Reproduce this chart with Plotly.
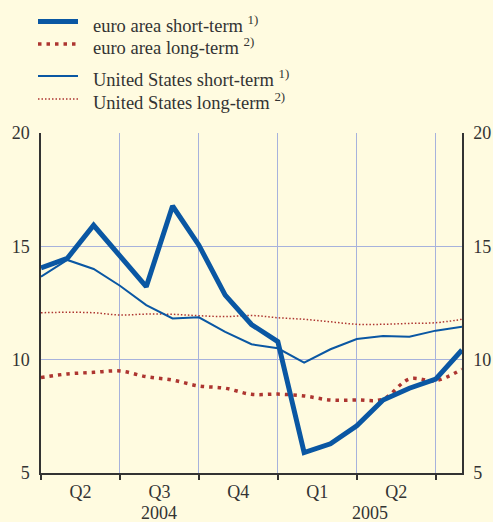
import plotly.graph_objects as go

# monthly observations, April 2004 .. August 2005 (index 0..16)
months = list(range(17))
euro_short = [14.05, 14.47, 15.93, 14.57, 13.22, 16.78, 15.05, 12.85, 11.55, 10.8,
              5.9, 6.29, 7.08, 8.22, 8.74, 9.14, 10.43]
euro_long = [9.21, 9.37, 9.44, 9.5, 9.25, 9.1, 8.84, 8.74, 8.47, 8.48,
             8.4, 8.22, 8.22, 8.26, 9.15, 9.07, 9.58]
us_short = [13.66, 14.4, 14.0, 13.26, 12.41, 11.82, 11.87, 11.23, 10.68, 10.5,
            9.87, 10.46, 10.91, 11.04, 11.01, 11.28, 11.45]
us_long = [12.07, 12.09, 12.07, 11.97, 12.01, 12.0, 11.94, 11.9, 11.95, 11.85,
           11.78, 11.67, 11.56, 11.56, 11.6, 11.63, 11.78]

series_names = ["euro area short-term <sup>1)</sup>", "euro area long-term <sup>2)</sup>",
                "United States short-term <sup>1)</sup>", "United States long-term <sup>2)</sup>"]

quarter_bounds = [0, 3, 6, 9, 12, 15]
quarter_centers = [1.5, 4.5, 7.5, 10.5, 13.5]
quarter_labels = ["Q2", "Q3", "Q4", "Q1", "Q2"]
year_centers = [4.5, 12.5]
year_labels = ["2004", "2005"]
y_ticks = [5, 10, 15, 20]

BLUE = "#0a57a3"
RED = "#ad3530"
BG = "#fffbe0"
GRID = "#a7b2dc"
AX = "#333333"
FONT = "Liberation Serif"

W, H = 493, 522
ML, MR, MT, MB = 41, 31, 133, 49
PW, PH = W - ML - MR, H - MT - MB

def px_x(px):
    return (px - ML) / PW

def px_y(py):
    return (H - MB - py) / PH

styles = [
    dict(color=BLUE, width=5),
    dict(color=RED, width=3.5, dash="3.5px,5px", shape="spline"),
    dict(color=BLUE, width=2),
    dict(color=RED, width=1.5, dash="1.5px,2px", shape="spline"),
]
data = [euro_short, euro_long, us_short, us_long]
# euro short-term is drawn last (on top) against the right-hand axis (same scale)
order = [3, 1, 2, 0]
axes = {0: "y2", 1: "y", 2: "y", 3: "y"}

fig = go.Figure()
for i in order:
    fig.add_trace(go.Scatter(x=months, y=data[i], mode="lines", name=series_names[i],
                             line=styles[i], showlegend=False, yaxis=axes[i]))

# hand-placed legend (key lines + labels)
legend_rows_px = [21.5, 44, 76, 99]
for name, st, ry in zip(series_names, styles, legend_rows_px):
    fig.add_shape(type="line", xref="paper", yref="paper",
                  x0=px_x(38), x1=px_x(78), y0=px_y(ry), y1=px_y(ry),
                  line=dict(color=st["color"], width=st["width"],
                            dash=st.get("dash", "solid")))
    fig.add_annotation(xref="paper", yref="paper", x=px_x(91), y=px_y(ry + 2),
                       xanchor="left", yanchor="middle", text=name, showarrow=False,
                       font=dict(family=FONT, size=18.5, color=AX))

for xc, lab in zip(year_centers, year_labels):
    fig.add_annotation(x=xc, xref="x", y=px_y(513), yref="paper", yanchor="middle",
                       text=lab, showarrow=False,
                       font=dict(family=FONT, size=18, color=AX))

fig.update_layout(
    width=W, height=H,
    margin=dict(l=ML, r=MR, t=MT, b=MB, autoexpand=False),
    paper_bgcolor=BG, plot_bgcolor=BG,
    font=dict(family=FONT, size=18, color=AX),
    showlegend=False,
    xaxis=dict(range=[0, 16], tickmode="array", tickvals=quarter_centers,
               ticktext=quarter_labels, ticks="", showgrid=False, zeroline=False,
               showline=True, linecolor=AX, linewidth=1.5,
               tickfont=dict(family=FONT, size=18, color=AX), ticklabelstandoff=2,
               minor=dict(tickmode="array", tickvals=quarter_bounds, showgrid=True,
                          gridcolor=GRID, gridwidth=1.2, ticks="outside",
                          ticklen=5, tickcolor=AX, tickwidth=1.5)),
    yaxis=dict(range=[5, 20], tickvals=y_ticks, showgrid=True, gridcolor=GRID,
               gridwidth=1.2, zeroline=False, showline=True, linecolor=AX,
               linewidth=1.5, ticks="", ticklabelstandoff=6,
               tickfont=dict(family=FONT, size=18, color=AX)),
    yaxis2=dict(range=[5, 20], tickvals=y_ticks, overlaying="y", side="right",
                showgrid=False, zeroline=False, showline=True, linecolor=AX,
                linewidth=1.5, ticks="", ticklabelstandoff=6,
                tickfont=dict(family=FONT, size=18, color=AX)),
)

fig.write_html("out.html", config={"displayModeBar": False},
               post_script="document.body.style.margin='0px';"
                           "document.body.style.background='" + BG + "';")
